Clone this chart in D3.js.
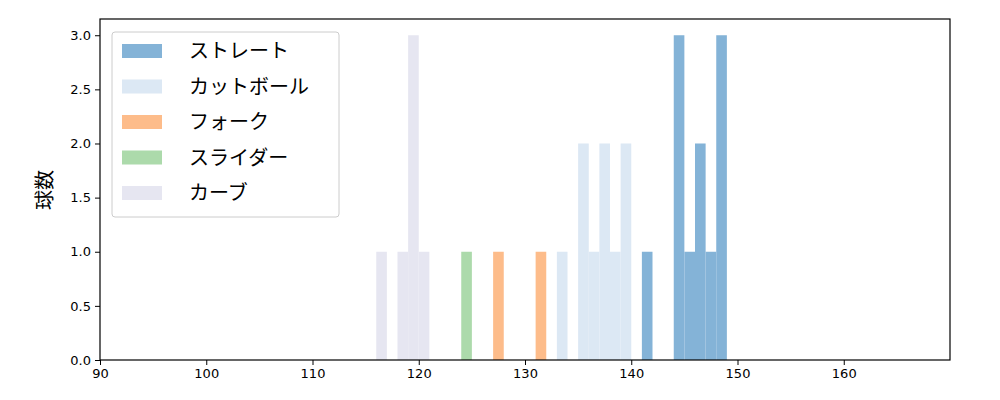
<!DOCTYPE html>
<html><head><meta charset="utf-8">
<script src="https://cdn.jsdelivr.net/npm/d3@7"></script>
<style>body{margin:0;background:#fff}</style></head>
<body><svg id="c" width="1000" height="400"></svg>
<script>
// bins are 1 km/h wide, [start, start+1)
const pitchNames = ["ストレート", "カットボール", "フォーク", "スライダー", "カーブ"];
const pitchColors = ["#84b3d7", "#dce8f4", "#fdbc8a", "#acdaab", "#e6e6f1"];
const straightBins = [[141, 1], [144, 3], [145, 1], [146, 2], [147, 1], [148, 3]];
const cutterBins = [[133, 1], [135, 2], [136, 1], [137, 2], [138, 1], [139, 2]];
const forkBins = [[127, 1], [131, 1]];
const sliderBins = [[124, 1]];
const curveBins = [[116, 1], [118, 1], [119, 3], [120, 1]];
const seriesBins = [straightBins, cutterBins, forkBins, sliderBins, curveBins];
const xTicks = [90, 100, 110, 120, 130, 140, 150, 160];
const yTicks = [0, 0.5, 1, 1.5, 2, 2.5, 3];

const mLeft = 100, mRight = 950, mTop = 19, mBottom = 360;
const svg = d3.select("#c");
const x = d3.scaleLinear([90, 170], [mLeft, mRight]);
const y = d3.scaleLinear([0, 3.15], [mBottom, mTop]);

seriesBins.forEach((bins, i) => {
  svg.append("g").selectAll("rect").data(bins).join("rect")
    .attr("x", d => x(d[0]))
    .attr("width", d => x(d[0] + 1) - x(d[0]))
    .attr("y", d => y(d[1]))
    .attr("height", d => y(0) - y(d[1]))
    .attr("fill", pitchColors[i]);
});

const font = "DejaVu Sans, sans-serif";
const xAxis = svg.append("g").attr("transform", `translate(0,${mBottom})`)
  .call(d3.axisBottom(x).tickValues(xTicks).tickSize(5).tickPadding(4).tickSizeOuter(0));
const yAxis = svg.append("g").attr("transform", `translate(${mLeft},0)`)
  .call(d3.axisLeft(y).tickValues(yTicks).tickFormat(d3.format(".1f")).tickSize(5).tickPadding(4).tickSizeOuter(0));
[xAxis, yAxis].forEach(a => {
  a.selectAll("text").attr("font-family", font).attr("font-size", 13).attr("fill", "#000");
  a.selectAll("line").attr("stroke", "#000");
  a.select(".domain").remove();
});
svg.append("rect").attr("x", mLeft).attr("y", mTop).attr("width", mRight - mLeft).attr("height", mBottom - mTop)
  .attr("fill", "none").attr("stroke", "#000").attr("stroke-width", 1.2);

svg.append("text").attr("transform", "translate(52,190) rotate(-90)")
  .attr("text-anchor", "middle").attr("font-family", "Noto Sans CJK JP").attr("font-size", 20).text("球数");

const lg = svg.append("g");
lg.append("rect").attr("x", 112).attr("y", 32).attr("width", 227).attr("height", 185).attr("rx", 3)
  .attr("fill", "#fff").attr("fill-opacity", 0.8).attr("stroke", "#ccc");
pitchNames.forEach((n, i) => {
  const yy = 51 + i * 35.5;
  lg.append("rect").attr("x", 122).attr("y", yy - 7).attr("width", 40).attr("height", 14).attr("fill", pitchColors[i]);
  lg.append("text").attr("x", 189).attr("y", yy + 7).attr("font-family", "Noto Sans CJK JP")
    .attr("font-size", 20).text(n);
});
</script></body></html>
